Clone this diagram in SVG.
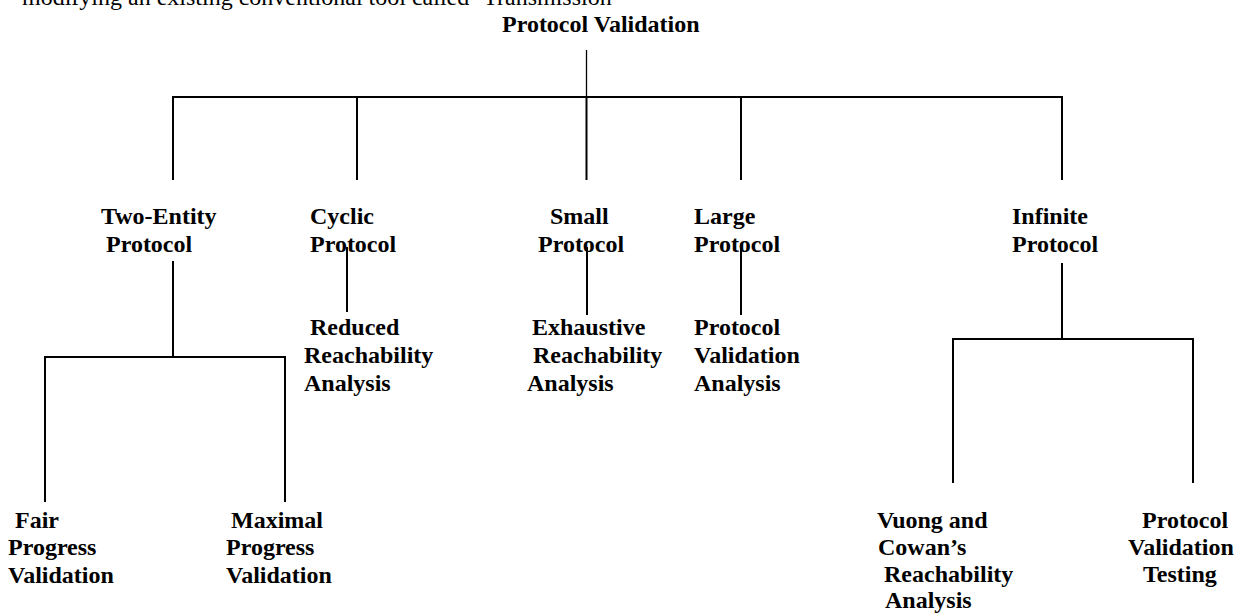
<svg xmlns="http://www.w3.org/2000/svg" width="1238" height="614" viewBox="0 0 1238 614">
<style>
text{font-family:"Liberation Serif","Times New Roman",serif;font-size:24px;fill:#000}
.b{font-weight:bold}
.ln{stroke:#000;stroke-width:2;fill:none}
.th{stroke:#000;stroke-width:1.3;fill:none}
</style>
<rect width="1238" height="614" fill="#fff"/>
<text x="22" y="5">modifying an existing conventional tool called ‘Transmission</text>
<g id="connectors">
<line class="th" x1="586.5" y1="50" x2="586.5" y2="97"/>
<polyline class="ln" points="173,180 173,97 1062,97 1062,180"/>
<line class="ln" x1="357" y1="97" x2="357" y2="180"/>
<line class="ln" x1="741" y1="97" x2="741" y2="180"/>
<line class="ln" x1="586.5" y1="97" x2="586.5" y2="180"/>
<line class="ln" x1="173" y1="261" x2="173" y2="357"/>
<polyline class="ln" points="45,502 45,357 285,357 285,502"/>
<line class="ln" x1="347" y1="247" x2="347" y2="312"/>
<line class="ln" x1="587" y1="247" x2="587" y2="315"/>
<line class="ln" x1="741" y1="247" x2="741" y2="315"/>
<line class="ln" x1="1062" y1="263" x2="1062" y2="339"/>
<polyline class="ln" points="953,483 953,339 1193,339 1193,483"/>
</g>
<g id="root"><text class="b" x="502" y="32">Protocol Validation</text></g>
<g id="two-entity"><text class="b" x="101" y="224">Two-Entity</text><text class="b" x="106" y="252">Protocol</text></g>
<g id="cyclic"><text class="b" x="310" y="224">Cyclic</text><text class="b" x="310" y="252">Protocol</text></g>
<g id="small"><text class="b" x="550" y="224">Small</text><text class="b" x="538" y="252">Protocol</text></g>
<g id="large"><text class="b" x="694" y="224">Large</text><text class="b" x="694" y="252">Protocol</text></g>
<g id="infinite"><text class="b" x="1012" y="224">Infinite</text><text class="b" x="1012" y="252">Protocol</text></g>
<g id="reduced"><text class="b" x="310" y="335">Reduced</text><text class="b" x="304" y="363">Reachability</text><text class="b" x="304" y="391">Analysis</text></g>
<g id="exhaustive"><text class="b" x="532" y="335">Exhaustive</text><text class="b" x="533" y="363">Reachability</text><text class="b" x="527" y="391">Analysis</text></g>
<g id="pva"><text class="b" x="694" y="335">Protocol</text><text class="b" x="694" y="363">Validation</text><text class="b" x="694" y="391">Analysis</text></g>
<g id="fair"><text class="b" x="15" y="528">Fair</text><text class="b" x="8" y="555">Progress</text><text class="b" x="8" y="583">Validation</text></g>
<g id="maximal"><text class="b" x="231" y="528">Maximal</text><text class="b" x="226" y="555">Progress</text><text class="b" x="226" y="583">Validation</text></g>
<g id="vuong"><text class="b" x="877" y="528">Vuong and</text><text class="b" x="878" y="555">Cowan’s</text><text class="b" x="884" y="582">Reachability</text><text class="b" x="885" y="608">Analysis</text></g>
<g id="pvt"><text class="b" x="1142" y="528">Protocol</text><text class="b" x="1128" y="555">Validation</text><text class="b" x="1143" y="582">Testing</text></g>
</svg>
